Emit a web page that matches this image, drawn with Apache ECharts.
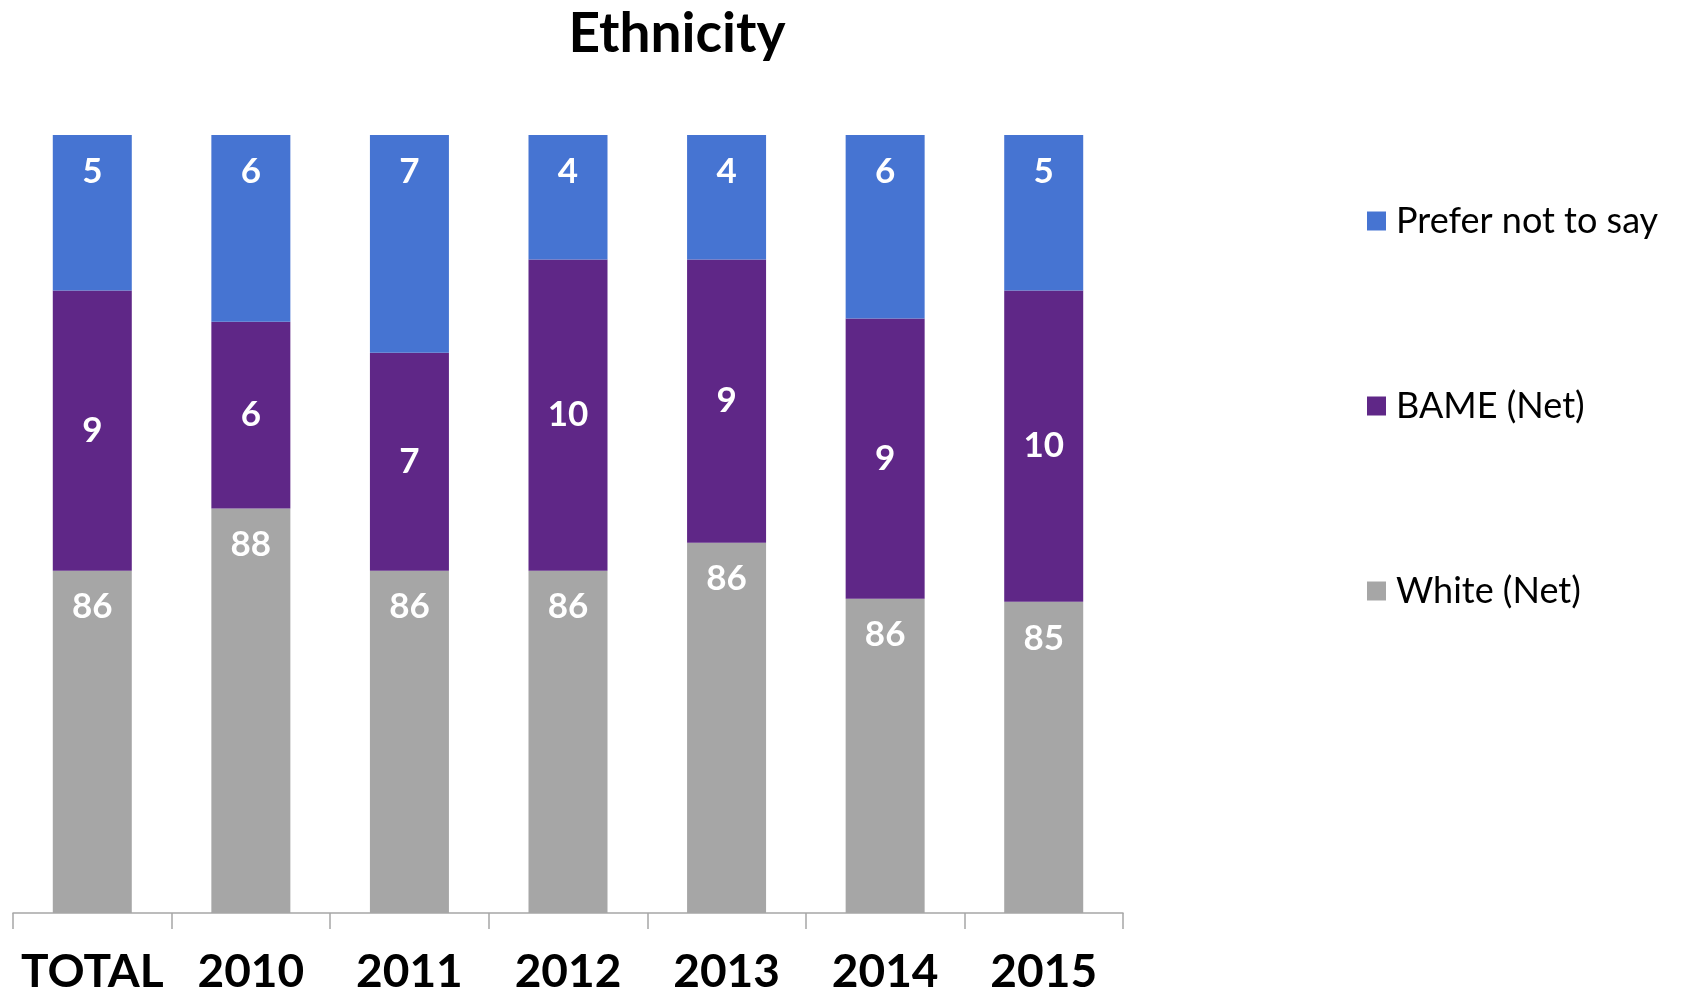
<!DOCTYPE html>
<html>
<head>
<meta charset="utf-8">
<script src="https://cdn.jsdelivr.net/npm/echarts@6/dist/echarts.min.js"></script>
<style>
  html, body { margin: 0; padding: 0; background: #fff; }
  #container { width: 1681px; height: 992px; }
</style>
</head>
<body>
<div id="container"></div>
<script>
// categories along the x axis
var categories = ['TOTAL', '2010', '2011', '2012', '2013', '2014', '2015'];

// segment heights (percent)
var whiteVals = [86, 88, 86, 86, 86.9, 85.1, 85];
var bameVals = [9, 6, 7, 10, 9.1, 9, 10];
var preferVals = [5, 6, 7, 4, 4, 5.9, 5];

// printed labels
var whiteLabels = [86, 88, 86, 86, 86, 86, 85];
var bameLabels = [9, 6, 7, 10, 9, 9, 10];
var preferLabels = [5, 6, 7, 4, 4, 6, 5];

var FONT = 'Lato, "Open Sans", sans-serif';

var dom = document.getElementById('container');
var myChart = echarts.init(dom, null, { renderer: 'canvas' });

function labelFrom(arr, pos) {
    return {
        show: true,
        position: pos,
        distance: 19,
        color: '#fff',
        fontFamily: FONT,
        fontWeight: 'bold',
        fontSize: 35,
        formatter: function (p) { return arr[p.dataIndex]; }
    };
}

var option = {
    animation: false,
    title: {
        text: 'Ethnicity',
        left: 672,
        top: 2,
        textAlign: 'center',
        textStyle: { fontFamily: FONT, fontWeight: 'bold', fontSize: 55, color: '#000' }
    },
    legend: {
        data: ['Prefer not to say', 'BAME (Net)', 'White (Net)'],
        orient: 'vertical',
        left: 1362,
        top: 198,
        itemGap: 149,
        itemWidth: 19,
        itemHeight: 19,
        icon: 'rect',
        textStyle: { fontFamily: FONT, fontSize: 36, color: '#000', lineHeight: 36, padding: [0, 0, 0, 5] }
    },
    grid: { left: 13, right: 558, top: 135, bottom: 79, containLabel: false, outerBoundsMode: 'none' },
    xAxis: {
        type: 'category',
        data: categories,
        axisLine: { lineStyle: { color: '#a6a6a6', width: 1.5 } },
        axisTick: { show: true, interval: 0, length: 16, lineStyle: { color: '#a6a6a6', width: 1.5 } },
        axisLabel: { interval: 0, margin: 36, fontFamily: FONT, fontWeight: 'bold', fontSize: 46, color: '#000' }
    },
    yAxis: {
        type: 'value',
        min: 75,
        max: 100,
        show: false,
        splitLine: { show: false }
    },
    series: [
        {
            name: 'White (Net)', type: 'bar', stack: 'eth', barWidth: 79,
            itemStyle: { color: '#a6a6a6' },
            label: labelFrom(whiteLabels, 'insideTop'),
            data: whiteVals
        },
        {
            name: 'BAME (Net)', type: 'bar', stack: 'eth', barWidth: 79,
            itemStyle: { color: '#5f2787' },
            label: labelFrom(bameLabels, 'inside'),
            data: bameVals
        },
        {
            name: 'Prefer not to say', type: 'bar', stack: 'eth', barWidth: 79,
            itemStyle: { color: '#4674d2' },
            label: labelFrom(preferLabels, 'insideTop'),
            data: preferVals
        }
    ]
};

myChart.setOption(option);
window.addEventListener('resize', myChart.resize);
</script>
</body>
</html>
